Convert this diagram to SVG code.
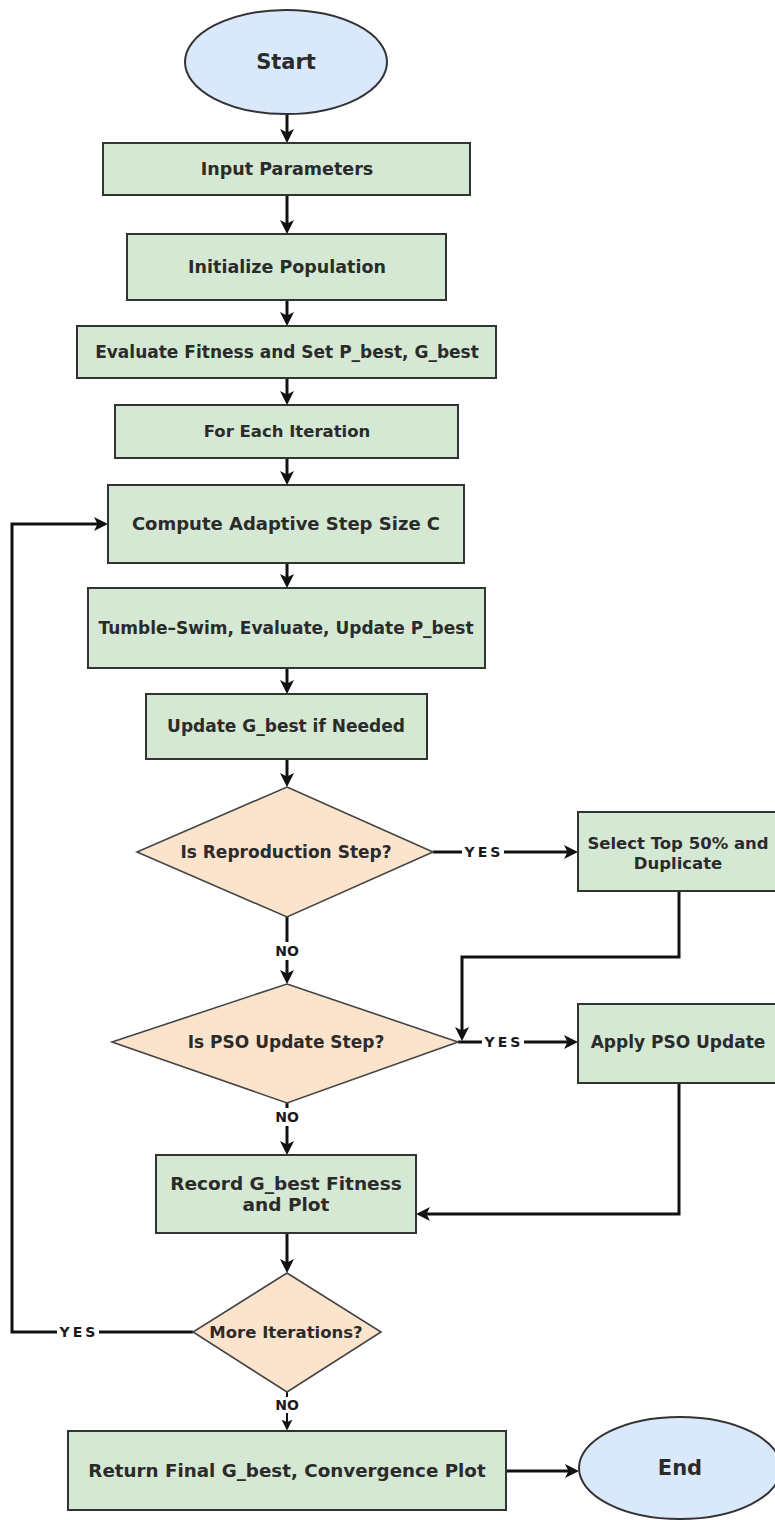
<svg xmlns="http://www.w3.org/2000/svg" width="775" height="1520" viewBox="0 0 775 1520">
  <style>
    .term { fill: #dae8fc; stroke: #333333; stroke-width: 2; }
    .proc { fill: #d5e8d4; stroke: #333333; stroke-width: 2; }
    .dec { fill: #fce4cc; stroke: #444444; stroke-width: 1.6; }
    .lbl { font-family: "DejaVu Sans", Verdana, sans-serif; font-weight: bold; fill: #2b2b2b; text-anchor: middle; }
    .edge { fill: none; stroke: #111111; stroke-width: 3; }
    .edge-thin { fill: none; stroke: #111111; stroke-width: 2; }
    .tag { font-family: "DejaVu Sans", Verdana, sans-serif; font-size: 14px; fill: #1a1a1a; text-anchor: middle; }
    .yes { letter-spacing: 3px; font-weight: 600; }
    .no { font-weight: bold; }
    .tagbg { fill: #ffffff; }
  </style>
  <defs>
    <marker id="arrow" viewBox="0 0 12 12" refX="6" refY="6" markerWidth="14" markerHeight="14" markerUnits="userSpaceOnUse" orient="auto">
      <path d="M0,0 L12,6 L0,12 L3,6 z" fill="#111111"/>
    </marker>
    <marker id="arrow-sm" viewBox="0 0 12 12" refX="6" refY="6" markerWidth="11" markerHeight="11" markerUnits="userSpaceOnUse" orient="auto">
      <path d="M0,0 L12,6 L0,12 L3,6 z" fill="#111111"/>
    </marker>
  </defs>

  <rect width="775" height="1520" fill="#ffffff"/>

  <!-- connectors -->
  <g id="connectors">
    <path class="edge" d="M287,114 V136" marker-end="url(#arrow)"/>
    <path class="edge" d="M287,195 V227" marker-end="url(#arrow)"/>
    <path class="edge" d="M287,300 V319" marker-end="url(#arrow)"/>
    <path class="edge" d="M287,378 V398" marker-end="url(#arrow)"/>
    <path class="edge" d="M287,458 V478" marker-end="url(#arrow)"/>
    <path class="edge" d="M287,563 V581" marker-end="url(#arrow)"/>
    <path class="edge" d="M287,668 V687" marker-end="url(#arrow)"/>
    <path class="edge" d="M287,759 V780" marker-end="url(#arrow)"/>
    <!-- reproduction: NO / YES -->
    <path class="edge" d="M287,917 V977" marker-end="url(#arrow)"/>
    <path class="edge" d="M433,852 H571" marker-end="url(#arrow)"/>
    <path class="edge" d="M679,891 V957 H462 V1034" marker-end="url(#arrow)"/>
    <!-- PSO update: NO / YES -->
    <path class="edge" d="M287,1103 V1148" marker-end="url(#arrow)"/>
    <path class="edge" d="M458,1042 H571" marker-end="url(#arrow)"/>
    <path class="edge" d="M679,1083 V1214 H423" marker-end="url(#arrow)"/>
    <path class="edge" d="M287,1233 V1266" marker-end="url(#arrow)"/>
    <!-- more iterations: YES loops back, NO finishes -->
    <path class="edge" d="M193,1332 H12 V524 H101" marker-end="url(#arrow)"/>
    <path class="edge-thin" d="M287,1392 V1425" marker-end="url(#arrow-sm)"/>
    <path class="edge" d="M506,1471 H572" marker-end="url(#arrow)"/>

    <!-- branch labels -->
    <rect class="tagbg" x="274" y="942" width="26" height="18"/>
    <text class="tag no" x="287" y="956">NO</text>
    <rect class="tagbg" x="462" y="843" width="42" height="18"/>
    <text class="tag yes" x="484" y="857">YES</text>
    <rect class="tagbg" x="274" y="1108" width="26" height="18"/>
    <text class="tag no" x="287" y="1122">NO</text>
    <rect class="tagbg" x="482" y="1033" width="42" height="18"/>
    <text class="tag yes" x="504" y="1047">YES</text>
    <rect class="tagbg" x="57" y="1323" width="42" height="18"/>
    <text class="tag yes" x="79" y="1337">YES</text>
    <rect class="tagbg" x="275" y="1397" width="24" height="16"/>
    <text class="tag no" x="287" y="1410" font-size="13">NO</text>
  </g>

  <!-- nodes -->
  <g id="start">
    <ellipse class="term" cx="286" cy="62" rx="101" ry="52"/>
    <text class="lbl" x="286" y="69" font-size="21">Start</text>
  </g>
  <g id="input-parameters">
    <rect class="proc" x="103" y="143" width="367" height="52"/>
    <text class="lbl" x="287" y="175" font-size="17.5">Input Parameters</text>
  </g>
  <g id="initialize-population">
    <rect class="proc" x="127" y="234" width="319" height="66"/>
    <text class="lbl" x="287" y="273" font-size="17.5">Initialize Population</text>
  </g>
  <g id="evaluate-fitness">
    <rect class="proc" x="77" y="326" width="419" height="52"/>
    <text class="lbl" x="287" y="358" font-size="17">Evaluate Fitness and Set P_best, G_best</text>
  </g>
  <g id="for-each-iteration">
    <rect class="proc" x="115" y="405" width="343" height="53"/>
    <text class="lbl" x="287" y="437" font-size="16.5">For Each Iteration</text>
  </g>
  <g id="compute-step-size">
    <rect class="proc" x="108" y="485" width="356" height="78"/>
    <text class="lbl" x="286" y="530" font-size="18">Compute Adaptive Step Size C</text>
  </g>
  <g id="tumble-swim">
    <rect class="proc" x="88" y="588" width="397" height="80"/>
    <text class="lbl" x="286" y="634" font-size="17">Tumble–Swim, Evaluate, Update P_best</text>
  </g>
  <g id="update-gbest">
    <rect class="proc" x="146" y="694" width="281" height="65"/>
    <text class="lbl" x="286" y="732" font-size="17">Update G_best if Needed</text>
  </g>
  <g id="reproduction-check">
    <polygon class="dec" points="287,787 433,852 287,917 137,852"/>
    <text class="lbl" x="286" y="858" font-size="17">Is Reproduction Step?</text>
  </g>
  <g id="select-top">
    <rect class="proc" x="578" y="812" width="200" height="79"/>
    <text class="lbl" x="678" y="849" font-size="16.5">Select Top 50% and</text>
    <text class="lbl" x="678" y="869" font-size="16.5">Duplicate</text>
  </g>
  <g id="pso-check">
    <polygon class="dec" points="287,984 458,1042 287,1103 112,1042"/>
    <text class="lbl" x="286" y="1048" font-size="17">Is PSO Update Step?</text>
  </g>
  <g id="apply-pso">
    <rect class="proc" x="578" y="1004" width="200" height="79"/>
    <text class="lbl" x="678" y="1048" font-size="17">Apply PSO Update</text>
  </g>
  <g id="record-gbest">
    <rect class="proc" x="156" y="1155" width="260" height="78"/>
    <text class="lbl" x="286" y="1190" font-size="18.5">Record G_best Fitness</text>
    <text class="lbl" x="286" y="1211" font-size="18.5">and Plot</text>
  </g>
  <g id="more-iterations">
    <polygon class="dec" points="287,1273 381,1332 287,1392 193,1332"/>
    <text class="lbl" x="286" y="1338" font-size="16.5">More Iterations?</text>
  </g>
  <g id="return-result">
    <rect class="proc" x="68" y="1431" width="438" height="79"/>
    <text class="lbl" x="287" y="1477" font-size="18.3">Return Final G_best, Convergence Plot</text>
  </g>
  <g id="end">
    <ellipse class="term" cx="680" cy="1468" rx="101" ry="51"/>
    <text class="lbl" x="680" y="1475" font-size="21">End</text>
  </g>
</svg>
